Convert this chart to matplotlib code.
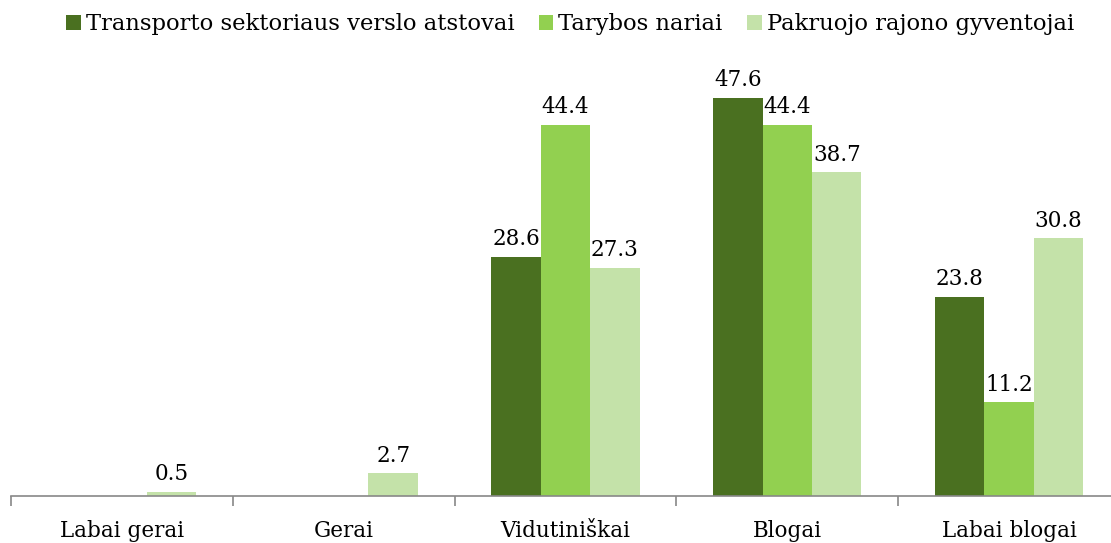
import numpy as np
import matplotlib.pyplot as plt

categories = ["Labai gerai", "Gerai", "Vidutiniškai", "Blogai", "Labai blogai"]
series_names = ["Transporto sektoriaus verslo atstovai", "Tarybos nariai", "Pakruojo rajono gyventojai"]
transport = [None, None, 28.6, 47.6, 23.8]
taryba = [None, None, 44.4, 44.4, 11.2]
gyventojai = [0.5, 2.7, 27.3, 38.7, 30.8]
colors = ["#4A7020", "#92D050", "#C4E2A9"]

plt.rcParams['font.family'] = ['DejaVu Serif']

fig = plt.figure(figsize=(11.11, 5.43), dpi=100)
# the axis runs a little past the right edge, like the original
ax = fig.add_axes([11 / 1111, 47 / 543, 1109 / 1111, 420 / 543])

x = np.arange(len(categories))
w = 0.223
for i, (vals, name, col) in enumerate(zip([transport, taryba, gyventojai], series_names, colors)):
    pos = x + (i - 1) * w
    h = [v if v is not None else 0 for v in vals]
    ax.bar(pos, h, width=w, color=col, label=name)
    for xp, v in zip(pos, vals):
        if v is not None:
            ax.text(xp, v + 0.8, f"{v:.1f}", ha="center", va="bottom", fontsize=15.5)

ax.set_xlim(-0.5, len(categories) - 0.5)
ax.set_ylim(0, 50.2)
ax.set_yticks([])
for s in ["top", "left", "right"]:
    ax.spines[s].set_visible(False)
ax.spines["bottom"].set_color("#888888")
ax.spines["bottom"].set_linewidth(1.2)

ax.set_xticks(x)
ax.set_xticklabels(categories, fontsize=15.5)
ax.tick_params(axis="x", length=0, pad=17)
ax.set_xticks(np.arange(len(categories) + 1) - 0.5, minor=True)
ax.tick_params(axis="x", which="minor", length=7, color="#888888", width=1.2)

fig.legend(loc="center", bbox_to_anchor=(0.513, 0.955), ncol=3, frameon=False,
           fontsize=16.3, handlelength=0.66, handleheight=0.66, handletextpad=0.22,
           columnspacing=1.06, borderpad=0, borderaxespad=0)

fig.savefig("out.png", dpi=100)
